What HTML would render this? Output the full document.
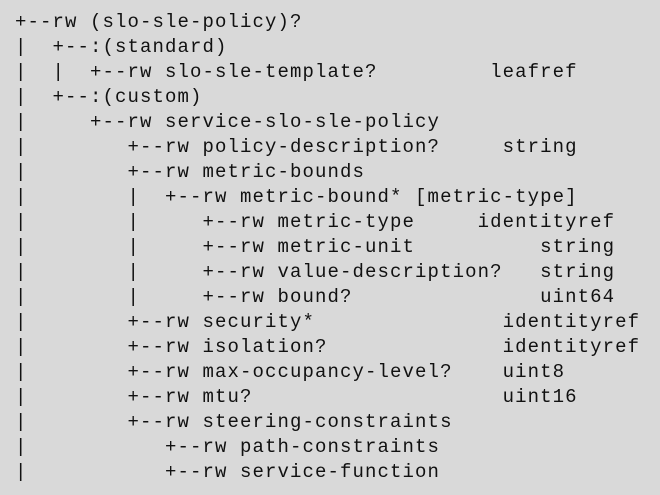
<!DOCTYPE html>
<html><head><meta charset="utf-8"><style>
html,body{margin:0;padding:0;}
body{width:660px;height:495px;background:#d9d9d9;overflow:hidden;}
pre{margin:0;position:absolute;left:15px;top:10px;font-family:"Liberation Mono",monospace;font-size:19px;letter-spacing:1.1px;line-height:25px;color:#111;}
</style></head><body>
<pre>+--rw (slo-sle-policy)?
|  +--:(standard)
|  |  +--rw slo-sle-template?         leafref
|  +--:(custom)
|     +--rw service-slo-sle-policy
|        +--rw policy-description?     string
|        +--rw metric-bounds
|        |  +--rw metric-bound* [metric-type]
|        |     +--rw metric-type     identityref
|        |     +--rw metric-unit          string
|        |     +--rw value-description?   string
|        |     +--rw bound?               uint64
|        +--rw security*               identityref
|        +--rw isolation?              identityref
|        +--rw max-occupancy-level?    uint8
|        +--rw mtu?                    uint16
|        +--rw steering-constraints
|           +--rw path-constraints
|           +--rw service-function</pre>
</body></html>
